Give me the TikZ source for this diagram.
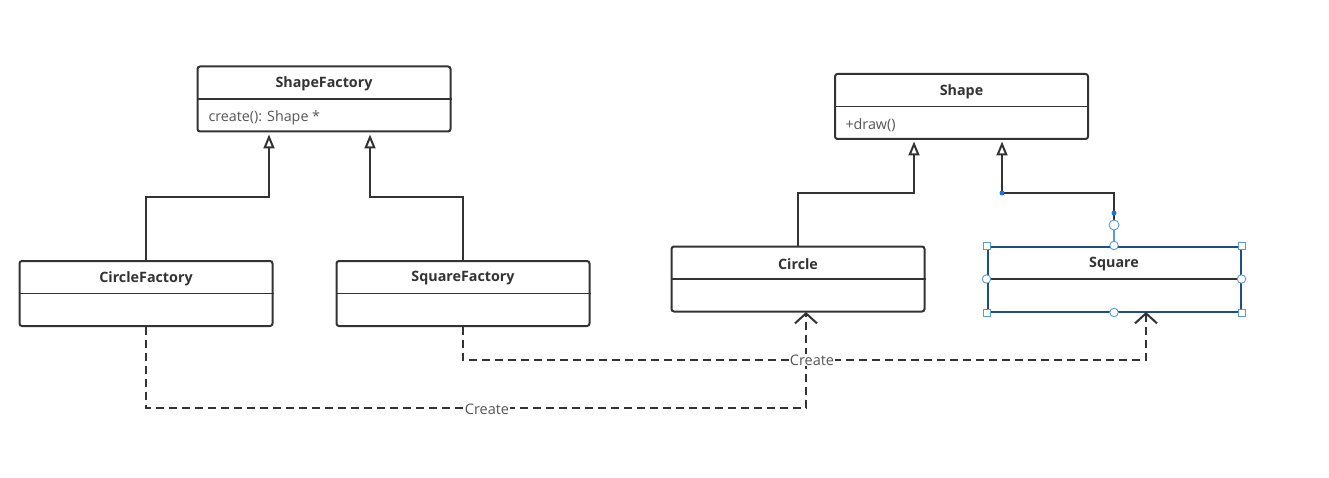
\documentclass[tikz,border=0pt]{standalone}
\usepackage{fontspec}
\setmainfont{Open Sans}
\usetikzlibrary{arrows.meta,calc}
\definecolor{ink}{HTML}{333333}
\definecolor{memb}{HTML}{555555}
\definecolor{sel}{HTML}{1F4E80}
\definecolor{hnd}{HTML}{5B9BD5}
\definecolor{dotb}{HTML}{1A73E8}
\tikzset{
  classbox/.style={draw=ink, line width=2pt, rounded corners=2.5pt, fill=white, minimum width=253pt, minimum height=65pt, inner sep=0pt},
  titletext/.style={font=\fontsize{14.3}{16}\selectfont\bfseries, text=ink},
  membtext/.style={font=\fontsize{14.3}{16}\selectfont, text=memb, anchor=west},
  divline/.style={draw=ink, line width=1.8pt},
  gen/.style={draw=ink, line width=2pt, -{Triangle[open,length=14pt,width=11pt,fill=white]}},
  dep/.style={draw=ink, line width=1.8pt, dash pattern=on 8pt off 5pt, -{Straight Barb[length=10pt,width=22pt,line width=2pt]}},
  lbl/.style={font=\fontsize{14.5}{16}\selectfont, text=memb, fill=white, inner sep=1pt},
  hsq/.style={draw=hnd, fill=white, line width=0.9pt, minimum size=7pt, inner sep=0pt},
  hci/.style={draw=hnd, fill=white, line width=0.9pt, circle, minimum size=8.5pt, inner sep=0pt},
  bdot/.style={fill=dotb, circle, minimum size=5pt, inner sep=0pt},
}
\begin{document}
\begin{tikzpicture}[x=1pt,y=-1pt]
\useasboundingbox (0,0) rectangle (1329,478);
% classes
\node[classbox] (sf) at (324,99) {};
\node[titletext] (sft) at (324,84) {ShapeFactory};
\draw[divline] (sf.west |- 0,99) -- (sf.east |- 0,99);
\node[membtext] (sfm) at (205,117.5) {create(): Shape *};

\node[classbox] (sh) at (961.5,106.5) {};
\node[titletext] (sht) at (961.5,91.5) {Shape};
\draw[divline] (sh.west |- 0,106.5) -- (sh.east |- 0,106.5);
\node[membtext] (shm) at (842,125.5) {+draw()};

\node[classbox] (cf) at (146,293.5) {};
\node[titletext] (cft) at (146,278.5) {CircleFactory};
\draw[divline] (cf.west |- 0,293.5) -- (cf.east |- 0,293.5);

\node[classbox] (qf) at (463,293.5) {};
\node[titletext] (qft) at (463,278.5) {SquareFactory};
\draw[divline] (qf.west |- 0,293.5) -- (qf.east |- 0,293.5);

\node[classbox] (ci) at (798,279) {};
\node[titletext] (cit) at (798,264) {Circle};
\draw[divline] (ci.west |- 0,279) -- (ci.east |- 0,279);

\node[classbox, draw=sel, rounded corners=0pt] (sq) at (1114,279) {};
\node[titletext] (sqt) at (1114,264) {Square};
\draw[divline] (sq.west |- 0,279) -- (sq.east |- 0,279);

% generalizations
\coordinate (sfa) at (269,134.5);
\coordinate (sfb) at (370,134.5);
\coordinate (sha) at (914,141.5);
\coordinate (shb) at (1002,141.5);
\draw[gen] (cf.north) |- (269,197) -- (sfa);
\draw[gen] (qf.north) |- (370,197) -- (sfb);
\draw[gen] (ci.north) |- (914,193) -- (sha);
\draw[draw=hnd, line width=1.8pt] (sq.north) -- (1114,225);
\draw[gen] (1114,213) |- (1002,193) -- (shb);
\draw[draw=ink, line width=2pt] (1114,213) -- (1114,221);

% dependencies
\coordinate (cia) at (806,312);
\coordinate (sqa) at (1146,312);
\draw[dep] (cf.south) |- (806,408) -- (cia);
\draw[dep] (qf.south) |- (1146,360) -- (sqa);
\node[lbl] (l1) at (487,409) {Create};
\node[lbl] (l2) at (812,360) {Create};

% selection handles
\foreach \p in {sq.north west, sq.north east, sq.south west, sq.south east}
  \node[hsq] at (\p) {};
\foreach \p in {sq.north, sq.south, sq.west, sq.east}
  \node[hci] at (\p) {};
\node[hci, minimum size=10pt] (h1) at (1114,225) {};
\node[bdot] (d1) at (1114,213) {};
\node[bdot] (d2) at (1002,193) {};
\end{tikzpicture}
\end{document}
